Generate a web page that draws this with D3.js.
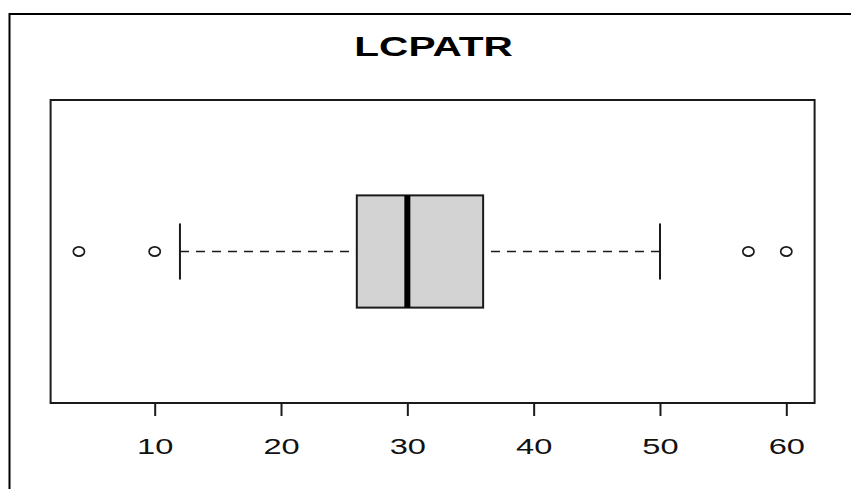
<!DOCTYPE html>
<html>
<head>
<meta charset="utf-8">
<script src="https://cdn.jsdelivr.net/npm/d3@7"></script>
<style>
  html, body { margin: 0; padding: 0; background: #fff; }
  svg { display: block; }
  text { font-family: "Liberation Sans", Arial, sans-serif; }
</style>
</head>
<body>
<svg id="chart" width="851" height="489"></svg>
<script>
// ---- data ----
const title = "LCPATR";
// five-number summary: lower whisker, Q1, median, Q3, upper whisker
const stats = [12, 26, 30, 36, 50];
const outliers = [4, 10, 57, 60];
const tickValues = [10, 20, 30, 40, 50, 60];

// ---- layout ----
const W = 851, H = 489;
const plot = { left: 50.6, right: 814.6, top: 100, bottom: 403 };
const textStretch = 1.45;

const svg = d3.select("#chart");

// outer frame (top & left edges visible)
svg.append("path")
  .attr("d", `M9.5,${H} L9.5,14 L${W},14`)
  .attr("fill", "none").attr("stroke", "#000").attr("stroke-width", 2);

const allVals = stats.concat(outliers);
const lo = d3.min(allVals), hi = d3.max(allVals);
const pad = (hi - lo) * 0.04;
const x = d3.scaleLinear().domain([lo - pad, hi + pad]).range([plot.left, plot.right]);
const y = d3.scaleLinear().domain([0.46, 1.54]).range([plot.bottom, plot.top]);

const center = 1;
const boxHalf = 0.2, capHalf = 0.1;
const cy = y(center);

// whiskers (dashed)
svg.append("line")
  .attr("x1", x(stats[0])).attr("x2", x(stats[1]))
  .attr("y1", cy).attr("y2", cy)
  .attr("stroke", "#1a1a1a").attr("stroke-width", 1.7).attr("stroke-dasharray", "9,7");
svg.append("line")
  .attr("x1", x(stats[4])).attr("x2", x(stats[3]))
  .attr("y1", cy).attr("y2", cy)
  .attr("stroke", "#1a1a1a").attr("stroke-width", 1.7).attr("stroke-dasharray", "9,7");

// whisker caps
[stats[0], stats[4]].forEach(v => {
  svg.append("line")
    .attr("x1", x(v)).attr("x2", x(v))
    .attr("y1", y(center + capHalf)).attr("y2", y(center - capHalf))
    .attr("stroke", "#1a1a1a").attr("stroke-width", 2);
});

// box
svg.append("rect")
  .attr("x", x(stats[1])).attr("width", x(stats[3]) - x(stats[1]))
  .attr("y", y(center + boxHalf)).attr("height", y(center - boxHalf) - y(center + boxHalf))
  .attr("fill", "#d3d3d3").attr("stroke", "#1a1a1a").attr("stroke-width", 2);

// median
svg.append("line")
  .attr("x1", x(stats[2])).attr("x2", x(stats[2]))
  .attr("y1", y(center + boxHalf)).attr("y2", y(center - boxHalf))
  .attr("stroke", "#000").attr("stroke-width", 6);

// outliers
svg.selectAll("ellipse.out").data(outliers).enter().append("ellipse")
  .attr("class", "out")
  .attr("cx", d => x(d)).attr("cy", cy)
  .attr("rx", 5.6).attr("ry", 4.6)
  .attr("fill", "none").attr("stroke", "#1a1a1a").attr("stroke-width", 1.7);

// plot box
svg.append("rect")
  .attr("x", plot.left).attr("y", plot.top)
  .attr("width", plot.right - plot.left).attr("height", plot.bottom - plot.top)
  .attr("fill", "none").attr("stroke", "#1a1a1a").attr("stroke-width", 2);

// x axis
const axis = d3.axisBottom(x).tickValues(tickValues).tickSize(13).tickFormat(d3.format("d"));
const gAxis = svg.append("g").attr("transform", `translate(0,${plot.bottom})`).call(axis);
gAxis.select(".domain").remove();
gAxis.selectAll(".tick line").attr("stroke", "#1a1a1a").attr("stroke-width", 2);
gAxis.selectAll(".tick text")
  .attr("y", 0).attr("dy", null)
  .attr("font-size", 22.5)
  .attr("fill", "#111")
  .attr("font-family", "Liberation Sans, Arial, sans-serif")
  .attr("transform", `translate(0,${454 - plot.bottom}) scale(${textStretch},1)`);

// title
svg.append("text")
  .attr("transform", `translate(${(plot.left + plot.right) / 2 + 1},56) scale(${textStretch},1)`)
  .attr("text-anchor", "middle")
  .attr("font-size", 28)
  .attr("font-weight", "bold")
  .attr("fill", "#000")
  .text(title);
</script>
</body>
</html>
